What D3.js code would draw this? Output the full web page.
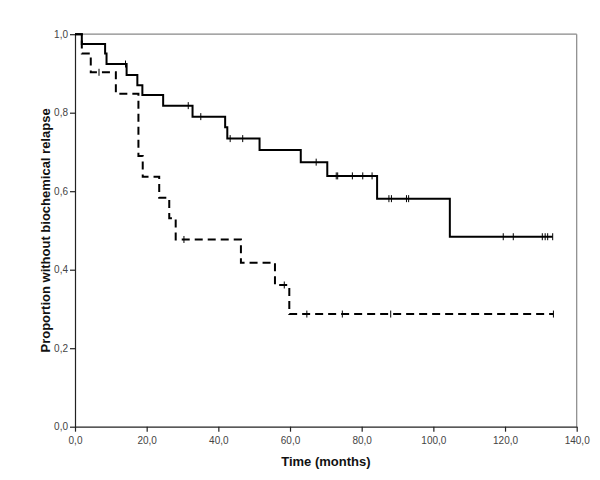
<!DOCTYPE html>
<html>
<head>
<meta charset="utf-8">
<script src="https://cdn.jsdelivr.net/npm/d3@7"></script>
<style>
  body { margin: 0; background: #fff; }
  svg { display: block; }
  .axis text { font-family: "Liberation Sans", Arial, sans-serif; font-size: 10px; fill: #444; }
  .axis path, .axis line { stroke: #222; stroke-width: 1.2; }
  .title { font-family: "Liberation Sans", Arial, sans-serif; font-size: 13px; font-weight: bold; fill: #111; }
</style>
</head>
<body>
<svg id="chart" width="600" height="480"></svg>
<script>
// group 1 (solid line) - event times and survival after each step
const solidTimes = [1.9, 8.4, 8.8, 14.4, 17.4, 18.8, 24.6, 32.8, 41.9, 42.5, 51.5, 63.0, 70.4, 84.3, 104.6];
const solidSurv  = [0.975, 0.951, 0.924, 0.896, 0.870, 0.845, 0.818, 0.790, 0.763, 0.734, 0.705, 0.674, 0.639, 0.581, 0.484];
const solidCensored = [14.1, 31.6, 35.1, 43.3, 46.8, 67.3, 72.9, 73.3, 77.4, 80.3, 82.9, 87.6, 88.3, 92.5, 93.1, 119.5, 122.3, 130.4, 131.2, 131.9, 133.3];
const solidEnd = 133.3;

// group 2 (dashed line)
const dashTimes = [1.9, 4.4, 11.4, 17.7, 18.9, 23.5, 26.3, 28.1, 46.3, 55.8, 59.8];
const dashSurv  = [0.951, 0.903, 0.848, 0.690, 0.637, 0.583, 0.531, 0.477, 0.418, 0.361, 0.287];
const dashCensored = [6.7, 30.4, 58.4, 64.7, 74.6, 88.1, 133.5];
const dashEnd = 133.5;

const xTicks = [0, 20, 40, 60, 80, 100, 120, 140];
const yTicks = [0, 0.2, 0.4, 0.6, 0.8, 1.0];

const svg = d3.select("#chart");
const x = d3.scaleLinear().domain([0, 140]).range([75, 576.7]);
const y = d3.scaleLinear().domain([0, 1]).range([426.7, 34.2]);

const fmt = d => d3.format(".1f")(d).replace(".", ",");

// frame top / right
svg.append("line")
    .attr("x1", x(0)).attr("x2", x(140))
    .attr("y1", y(1)).attr("y2", y(1))
    .attr("stroke", "#888").attr("stroke-width", 1.2);
svg.append("line")
    .attr("x1", x(140)).attr("x2", x(140))
    .attr("y1", y(1)).attr("y2", y(0))
    .attr("stroke", "#888").attr("stroke-width", 1.2);

svg.append("g")
    .attr("class", "axis")
    .attr("transform", "translate(0," + y(0) + ")")
    .call(d3.axisBottom(x).tickValues(xTicks).tickFormat(fmt).tickSize(5).tickPadding(5).tickSizeOuter(0));

svg.append("g")
    .attr("class", "axis")
    .attr("transform", "translate(" + x(0) + ",0)")
    .call(d3.axisLeft(y).tickValues(yTicks).tickFormat(fmt).tickSize(5).tickPadding(2).tickSizeOuter(0));

svg.append("text")
    .attr("class", "title")
    .attr("x", (x(0) + x(140)) / 2)
    .attr("y", 466)
    .attr("text-anchor", "middle")
    .text("Time (months)");

svg.append("text")
    .attr("class", "title")
    .attr("transform", "translate(50," + (y(0) + y(1)) / 2 + ") rotate(-90)")
    .attr("text-anchor", "middle")
    .text("Proportion without biochemical relapse");

function stepPoints(times, surv, end) {
    const pts = [[0, 1]];
    times.forEach((t, i) => pts.push([t, surv[i]]));
    pts.push([end, surv[surv.length - 1]]);
    return pts;
}

function survAt(times, surv, t) {
    let s = 1;
    times.forEach((tt, i) => { if (tt <= t) s = surv[i]; });
    return s;
}

const line = d3.line()
    .x(d => x(d[0]))
    .y(d => y(d[1]))
    .curve(d3.curveStepAfter);

function drawCurve(times, surv, censored, end, dash) {
    svg.append("path")
        .datum(stepPoints(times, surv, end))
        .attr("d", line)
        .attr("fill", "none")
        .attr("stroke", "#000")
        .attr("stroke-width", 2)
        .attr("stroke-dasharray", dash);

    svg.append("g")
        .selectAll("line")
        .data(censored)
        .enter()
        .append("line")
        .attr("x1", d => x(d)).attr("x2", d => x(d))
        .attr("y1", d => y(survAt(times, surv, d)) - 3.5)
        .attr("y2", d => y(survAt(times, surv, d)) + 3.5)
        .attr("stroke", "#000")
        .attr("stroke-width", 1);
}

drawCurve(dashTimes, dashSurv, dashCensored, dashEnd, "8,5");
drawCurve(solidTimes, solidSurv, solidCensored, solidEnd, null);
</script>
</body>
</html>
